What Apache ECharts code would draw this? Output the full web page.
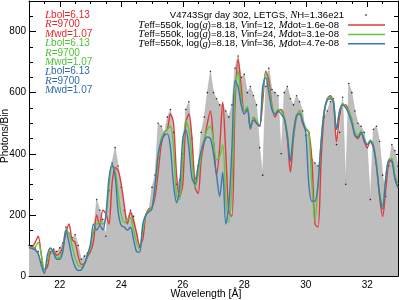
<!DOCTYPE html>
<html>
<head>
<meta charset="utf-8">
<script src="https://cdn.jsdelivr.net/npm/echarts@6/dist/echarts.min.js"></script>
<style>
html,body{margin:0;padding:0;background:#fff;}
#chart{width:399px;height:300px;}
</style>
</head>
<body>
<div id="chart"></div>
<script>
// Wavelength grid (Angstrom), 0.1 A bins from 21.0 to 33.0
const wavelength = Array.from({length:121}, (_, i) => +(21 + i * 0.1).toFixed(1));

// Observed spectrum (photons/bin)
const observed = [
  100, 96, 92, 80, 45, 22, 35, 75, 88, 80,
  92, 108, 160, 140, 125, 135, 100, 55, 65, 75,
  95, 140, 250, 215, 185, 130, 280, 370, 420, 360,
  290, 215, 185, 215, 195, 140, 95, 165, 200, 215,
  290, 330, 500, 490, 465, 520, 545, 470, 300, 315,
  400, 545, 570, 450, 320, 360, 470, 520, 600, 670,
  600, 580, 560, 560, 540, 520, 560, 680, 720, 650,
  660, 600, 620, 590, 560, 420, 330, 620, 680, 610,
  600, 590, 400, 600, 620, 580, 560, 590, 570, 540,
  460, 470, 380, 370, 360, 400, 520, 540, 570, 580,
  430, 470, 585, 300, 630, 600, 540, 500, 490, 470,
  420, 250, 480, 490, 440, 330, 260, 360, 430, 410,
  360
];

// Model: Vinf=12, Mdot=1.6e-08 (red)
const modelVinf12 = [
  96, 96, 110, 130, 70, 20, 30, 80, 82, 68,
  74, 95, 140, 170, 120, 110, 65, 38, 40, 62,
  80, 115, 200, 165, 215, 205, 170, 300, 355, 345,
  300, 230, 170, 210, 180, 140, 100, 120, 200, 220,
  225, 260, 340, 430, 470, 480, 530, 500, 330, 260,
  300, 500, 530, 450, 290, 270, 380, 440, 500, 540,
  440, 330, 420, 570, 400, 210, 195, 560, 710, 620,
  540, 550, 480, 520, 500, 490, 570, 670, 640, 560,
  520, 540, 545, 520, 450, 340, 450, 520, 540, 500,
  480, 470, 380, 170, 160, 380, 530, 580, 590, 570,
  440, 520, 560, 560, 540, 510, 460, 450, 470, 440,
  420, 440, 420, 360, 260, 195, 280, 370, 380, 320,
  290
];

// Model: Vinf=24, Mdot=3.1e-08 (green)
const modelVinf24 = [
  96, 92, 95, 110, 70, 20, 50, 90, 78, 60,
  62, 85, 150, 140, 100, 60, 35, 30, 42, 65,
  95, 150, 170, 175, 170, 190, 290, 360, 345, 270,
  200, 175, 185, 190, 150, 110, 85, 150, 200, 215,
  225, 285, 380, 450, 470, 480, 490, 420, 260, 250,
  390, 510, 480, 380, 290, 330, 400, 450, 480, 490,
  440, 380, 390, 430, 260, 175, 300, 600, 670, 580,
  540, 555, 485, 520, 510, 490, 600, 665, 620, 555,
  530, 545, 540, 520, 470, 380, 460, 525, 540, 510,
  485, 470, 300, 180, 300, 440, 540, 580, 585, 575,
  480, 540, 565, 555, 540, 510, 470, 460, 475, 450,
  430, 445, 430, 370, 270, 230, 320, 380, 385, 330,
  300
];

// Model: Vinf=36, Mdot=4.7e-08 (blue)
const modelVinf36 = [
  92, 90, 85, 72, 35, 8, 70, 92, 75, 55,
  55, 80, 150, 110, 60, 30, 18, 20, 38, 68,
  105, 170, 150, 165, 150, 200, 320, 365, 330, 210,
  165, 160, 150, 160, 120, 80, 78, 170, 200, 210,
  220, 300, 400, 440, 460, 465, 420, 300, 240, 290,
  450, 480, 420, 320, 300, 360, 410, 440, 455, 450,
  400, 330, 260, 340, 170, 230, 420, 640, 620, 560,
  530, 545, 485, 510, 500, 490, 620, 650, 600, 545,
  530, 540, 530, 515, 460, 375, 470, 525, 530, 505,
  470, 300, 245, 245, 300, 440, 540, 575, 580, 570,
  480, 540, 560, 550, 530, 500, 460, 455, 470, 445,
  430, 440, 425, 360, 270, 220, 320, 380, 375, 320,
  290
];

const xTickLabels = [22, 24, 26, 28, 30, 32];
const yTickLabels = [0, 200, 400, 600, 800];

const toPairs = arr => wavelength.map((w, i) => [w, arr[i]]);

const FONT = 'Liberation Sans';
const SERIF = 'Liberation Serif';
const RED = '#e23a3a', GREEN = '#5cc83c', BLUE = '#3b78b0';
const RED_T = '#e8262a', GREEN_T = '#4fc236', BLUE_T = '#2e6aa8';

function xAx(pos, major, labels) {
  const a = {
    type: 'value', min: 21, max: 33, position: pos,
    splitLine: {show: false},
    axisLine: {show: !major, onZero: false, lineStyle: {color: '#000', width: 1}},
    axisTick: {show: true, inside: true, length: major ? 6 : 3, lineStyle: {color: '#000', width: 1}},
    axisLabel: {show: false}
  };
  if (major) a.axisTick.customValues = xTickLabels; else a.interval = 0.5;
  if (labels) a.axisLabel = {show: true, customValues: xTickLabels, color: '#000', fontSize: 10, fontFamily: FONT, margin: 4};
  return a;
}
function yAx(pos, major, labels) {
  const a = {
    type: 'value', min: 0, max: 900, position: pos,
    splitLine: {show: false},
    axisLine: {show: !major, onZero: false, lineStyle: {color: '#000', width: 1}},
    axisTick: {show: true, inside: true, length: major ? 7 : 4, lineStyle: {color: '#000', width: 1}},
    axisLabel: {show: false}
  };
  if (major) a.axisTick.customValues = yTickLabels; else a.interval = 50;
  if (labels) a.axisLabel = {show: true, customValues: yTickLabels, color: '#000', fontSize: 10, fontFamily: FONT, margin: 3};
  return a;
}

function txt(x, y, text, color, align, size) {
  const s = size || 10;
  return {
    type: 'text', x: x, y: y, silent: true,
    style: {
      text: text, fill: color, align: align || 'left', verticalAlign: 'middle',
      font: s + 'px "' + FONT + '"',
      rich: {
        i: {fontStyle: 'italic', fontFamily: SERIF, fontSize: s + 1, fill: color},
        n: {fontFamily: FONT, fontSize: s, fill: color}
      }
    }
  };
}

const leftRows = [
  ['{i|L}{n|bol=6.13}', RED_T], ['{i|R}{n|=9700}', RED_T], ['{i|M}{n|wd=1.07}', RED_T],
  ['{i|L}{n|bol=6.13}', GREEN_T], ['{i|R}{n|=9700}', GREEN_T], ['{i|M}{n|wd=1.07}', GREEN_T],
  ['{i|L}{n|bol=6.13}', BLUE_T], ['{i|R}{n|=9700}', BLUE_T], ['{i|M}{n|wd=1.07}', BLUE_T]
];
const graphics = [];
leftRows.forEach((r, k) => graphics.push(txt(45, 15 + k * 9.45, r[0], r[1])));
graphics.push(txt(344, 15, '{n|V4743Sgr day 302, LETGS, }{i|N}{n|H=1.36e21}', '#000', 'right', 9.5));
const modelRows = [['12', '1.6e-08', RED], ['24', '3.1e-08', GREEN], ['36', '4.7e-08', BLUE]];
modelRows.forEach((r, k) => {
  const y = 25 + k * 9.4;
  graphics.push(txt(339, y, '{i|T}{n|eff=550k, log(}{i|g}{n|)=8.18, }{i|V}{n|inf=' + r[0] + ', }{i|M}{n|dot=' + r[1] + '}', '#000', 'right', 9.6));
  graphics.push({type: 'line', silent: true, shape: {x1: 348, y1: y, x2: 385, y2: y}, style: {stroke: r[2], lineWidth: 1.5}});
});
graphics.push({type: 'circle', silent: true, shape: {cx: 366, cy: 15, r: 0.8}, style: {fill: '#000'}});
graphics.push({type: 'text', x: 206, y: 294, silent: true, style: {text: 'Wavelength [Å]', fill: '#000', align: 'center', verticalAlign: 'middle', font: '10.5px "' + FONT + '"'}});
graphics.push({type: 'text', x: 5, y: 136, rotation: Math.PI / 2, silent: true, style: {text: 'Photons/Bin', fill: '#000', align: 'center', verticalAlign: 'middle', font: '10px "' + FONT + '"'}});

const option = {
  animation: false,
  backgroundColor: '#fff',
  grid: {left: 29, right: 1, top: 1, bottom: 24},
  xAxis: [xAx('bottom', false, true), xAx('bottom', true, false), xAx('top', false, false), xAx('top', true, false)],
  yAxis: [yAx('left', false, true), yAx('left', true, false), yAx('right', false, false), yAx('right', true, false)],
  series: [
    {type: 'line', data: toPairs(observed), showSymbol: false, lineStyle: {width: 0.6, color: '#b0b0b0'}, areaStyle: {color: '#bebebe', opacity: 1}, z: 1},
    {type: 'scatter', data: toPairs(observed), symbolSize: 1.6, itemStyle: {color: '#000'}, z: 2},
    {type: 'line', data: toPairs(modelVinf12), showSymbol: false, smooth: 0.3, lineStyle: {width: 1.4, color: RED}, z: 3},
    {type: 'line', data: toPairs(modelVinf24), showSymbol: false, smooth: 0.3, lineStyle: {width: 1.4, color: GREEN}, z: 4},
    {type: 'line', data: toPairs(modelVinf36), showSymbol: false, smooth: 0.3, lineStyle: {width: 1.4, color: BLUE}, z: 5}
  ],
  graphic: graphics
};
const chart = echarts.init(document.getElementById('chart'), null, {renderer: 'canvas'});
chart.setOption(option);
</script>
</body>
</html>
